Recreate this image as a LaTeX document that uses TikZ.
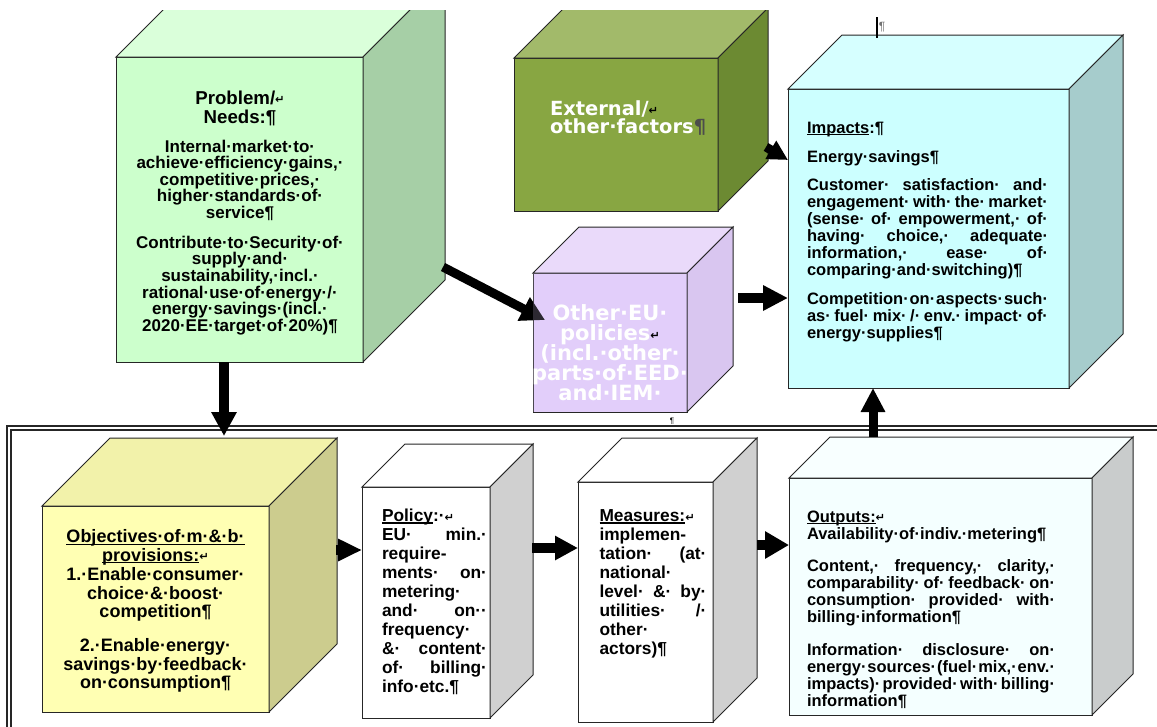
\documentclass[tikz,border=0pt]{standalone}
\usepackage{fontspec}
\setmainfont{Liberation Sans}
\newfontfamily\dvsans{DejaVu Sans}
\usetikzlibrary{arrows.meta}

\definecolor{gfront}{HTML}{CCFFCC}\definecolor{gtop}{HTML}{DAFFDA}\definecolor{gside}{HTML}{A6CFA6}
\definecolor{efront}{HTML}{88A642}\definecolor{etop}{HTML}{A2BA6A}\definecolor{eside}{HTML}{6C8A32}
\definecolor{pfront}{HTML}{E2CEFA}\definecolor{ptop}{HTML}{EADAFA}\definecolor{pside}{HTML}{D9C6F0}
\definecolor{ifront}{HTML}{CCFFFF}\definecolor{itop}{HTML}{D6FFFF}\definecolor{iside}{HTML}{A6CCCC}
\definecolor{ofront}{HTML}{FFFFB3}\definecolor{otop}{HTML}{F2F2AA}\definecolor{oside}{HTML}{CCCC8E}
\definecolor{wfront}{HTML}{FFFFFF}\definecolor{wtop}{HTML}{FFFFFF}\definecolor{wside}{HTML}{D0D0D0}
\definecolor{ufront}{HTML}{F4FFFF}\definecolor{utop}{HTML}{F8FFFF}\definecolor{uside}{HTML}{C9CCCC}

\newcommand\lnL[1]{\hbox to\hsize{#1\hfil}}
\newcommand\lnC[1]{\hbox to\hsize{\hfil#1\hfil}}
\newcommand\lnJ[1]{\hbox to\hsize{#1}}
\newcommand\retmark{{\dvsans\fontsize{8.5pt}{8.5pt}\selectfont\raisebox{0.1ex}{↵}}}
\newcommand\ulin[1]{\setbox0\hbox{#1}\rlap{\rule[-0.11em]{\wd0}{0.065em}}\box0}

\tikzset{
  face/.style={draw=black!85, line width=0.75pt, outer sep=0pt, inner sep=0pt},
  edge/.style={draw=black!85, line width=0.75pt, line join=miter},
  frm/.style={draw=black!85, line width=0.8pt},
  fat/.style n args={3}{draw=black, line width=#1, -{Triangle[length=#2,width=#3]}},
  txt/.style={inner sep=0pt, outer sep=0pt},
}

% name, x1, y1, x2, y2, depth, front, top, side
\newcommand\mycube[9]{%
  \node[face, fill=#7, minimum width={(#4-#2)*0.75pt}, minimum height={(#5-#3)*0.75pt}, anchor=north west] (#1) at (#2,#3) {};
  \draw[edge, fill=#8] (#1.north west) -- ++(#6,-#6) -- ++(#4-#2,0) -- (#1.north east) -- cycle;
  \draw[edge, fill=#9] (#1.north east) -- ++(#6,-#6) -- ++(0,#5-#3) -- (#1.south east) -- cycle;
}

\begin{document}
\begin{tikzpicture}[x=0.75pt,y=-0.75pt]
\useasboundingbox (0,0) rectangle (1157,726);
\fill[white] (0,0) rectangle (1157,726);
\clip (0,10) rectangle (1157,726);

% frame of the lower part
\draw[frm] (7,426) rectangle (1180,750);
\draw[frm] (11,430) rectangle (1180,750);

% cubes
\mycube{prob}{116}{57}{363}{362}{82}{gfront}{gtop}{gside}
\mycube{ext}{514}{58}{718}{211}{50}{efront}{etop}{eside}
\mycube{pur}{533}{273}{687}{412}{46}{pfront}{ptop}{pside}
\mycube{imp}{788}{89}{1069}{388}{54}{ifront}{itop}{iside}
\mycube{obj}{42}{506}{269}{712}{68}{ofront}{otop}{oside}
\mycube{pol}{362}{487}{490}{718}{43}{wfront}{wtop}{wside}
\mycube{mea}{578}{482}{713}{722}{44}{wfront}{wtop}{wside}
\mycube{out}{789}{478}{1092}{715}{41}{ufront}{utop}{uside}

% connector end points
\coordinate (dA) at (224,436);
\coordinate (oA) at (336,550);
\coordinate (pA) at (532,548);
\coordinate (mA) at (757,545);
\coordinate (uA) at (873,437);
\coordinate (rA) at (738,298);
\coordinate (eA) at (766,147);
\coordinate (eB) at (788,160);
\coordinate (gA) at (443,267);
\coordinate (gB) at (545,320);

% arrows
\draw[fat={7.5pt}{18pt}{18pt}] (prob.south -| dA) -- (dA);
\draw[fat={7.5pt}{18pt}{15.75pt}] (oA) -- (pol.west |- oA);
\draw[fat={7.5pt}{17.25pt}{17.25pt}] (pA) -- (mea.west |- pA);
\draw[fat={7.5pt}{18pt}{19.5pt}] (mA) -- (out.west |- mA);
\draw[fat={6.75pt}{18pt}{17.25pt}] (uA) -- (imp.south -| uA);
\draw[fat={7.5pt}{18.75pt}{18pt}] (rA) -- (imp.west |- rA);
\draw[fat={6.75pt}{15pt}{15pt}] (eA) -- (eB);
\draw[fat={6.75pt}{18pt}{18.75pt}] (gA) -- (gB);
\fill[pfront, opacity=0.2] (pur.north west) rectangle (pur.south east);

% texts
\node[txt, anchor=base, font=\bfseries\fontsize{12.75pt}{12.45pt}\selectfont] (probT) at (240,104) {\vtop{\hsize=180pt\lineskiplimit=-50pt
  {\fontsize{14pt}{14.25pt}\selectfont\lnC{Problem/\retmark}\lnC{Needs:¶}}
  \vskip 9.3pt
  \lnC{Internal·market·to·}
  \lnC{achieve·efficiency·gains,·}
  \lnC{competitive·prices,·}
  \lnC{higher·standards·of·}
  \lnC{service¶}
  \vskip 10pt
  \lnC{Contribute·to·Security·of·}
  \lnC{supply·and·}
  \lnC{sustainability,·incl.·}
  \lnC{rational·use·of·energy·/·}
  \lnC{energy·savings·(incl.·}
  \lnC{2020·EE·target·of·20\%)¶}}};

\node[txt, anchor=base west, text=white, font=\dvsans\bfseries\fontsize{14.6pt}{13.7pt}\selectfont] (extT) at (550,115) {\vtop{\hsize=160pt\lineskiplimit=-50pt
  \lnL{External/{\color{black}\retmark}}
  \lnL{other·factors{\color{black!70}¶}}}};

\node[txt, anchor=base, text=white, font=\dvsans\bfseries\fontsize{15.75pt}{15pt}\selectfont] (purT) at (610,320) {\vtop{\hsize=127.5pt\lineskiplimit=-50pt
  \lnC{Other·EU·}
  \lnC{policies{\color{black}\retmark}}
  \lnC{(incl.·other·}
  \lnC{parts·of·EED·}
  \lnC{and·IEM·}}};

\node[txt, anchor=base west, font=\bfseries\fontsize{12.375pt}{12.75pt}\selectfont] (impT) at (807,133) {\vtop{\hsize=180.75pt\lineskiplimit=-50pt
  \lnL{\ulin{Impacts}:¶}
  \vskip 9pt
  \lnL{Energy·savings¶}
  \vskip 8.25pt
  \lnJ{Customer·\hfill satisfaction·\hfill and·}
  \lnJ{engagement·\hfill with·\hfill the·\hfill market·}
  \lnJ{(sense·\hfill of·\hfill empowerment,·\hfill of·}
  \lnJ{having·\hfill choice,·\hfill adequate·}
  \lnJ{information,·\hfill ease·\hfill of·}
  \lnL{comparing·and·switching)¶}
  \vskip 9pt
  \lnJ{Competition·\hfill on·\hfill aspects·\hfill such·}
  \lnJ{as·\hfill fuel·\hfill mix·\hfill /·\hfill env.·\hfill impact·\hfill of·}
  \lnL{energy·supplies¶}}};

\node[txt, anchor=base, font=\bfseries\fontsize{13.5pt}{14.1pt}\selectfont] (objT) at (155.5,542.7) {\vtop{\hsize=165pt\lineskiplimit=-50pt
  \lnC{\ulin{Objectives·of·m·\&·b·}}
  \lnC{\ulin{provisions:}\retmark}
  \lnC{1.·Enable·consumer·}
  \lnC{choice·\&·boost·}
  \lnC{competition¶}
  \vskip 10.95pt
  \lnC{2.·Enable·energy·}
  \lnC{savings·by·feedback·}
  \lnC{on·consumption¶}}};

\node[txt, anchor=base west, font=\bfseries\fontsize{13pt}{14.25pt}\selectfont] (polT) at (382,521.7) {\vtop{\hsize=78.75pt\lineskiplimit=-50pt
  \lnL{\ulin{Policy}:·\retmark}
  \lnJ{EU·\hfill min.·}
  \lnL{require-}
  \lnJ{ments·\hfill on·}
  \lnL{metering·}
  \lnJ{and·\hfill on··}
  \lnL{frequency·}
  \lnJ{\&·\hfill content·}
  \lnJ{of·\hfill billing·}
  \lnL{info·etc.¶}}};

\node[txt, anchor=base west, font=\bfseries\fontsize{13pt}{14.25pt}\selectfont] (meaT) at (599.5,521.7) {\vtop{\hsize=80.25pt\lineskiplimit=-50pt
  \lnL{\ulin{Measures:}\retmark}
  \lnL{implemen-}
  \lnJ{tation·\hfill (at·}
  \lnL{national·}
  \lnJ{level·\hfill \&·\hfill by·}
  \lnJ{utilities·\hfill /·}
  \lnL{other·}
  \lnL{actors)¶}}};

\node[txt, anchor=base west, font=\bfseries\fontsize{12.375pt}{12.75pt}\selectfont] (outT) at (807,522) {\vtop{\hsize=186pt\lineskiplimit=-50pt
  \lnL{\ulin{Outputs:}\retmark}
  \lnL{Availability·of·indiv.·metering¶}
  \vskip 11.25pt
  \lnJ{Content,·\hfill frequency,·\hfill clarity,·}
  \lnJ{comparability·\hfill of·\hfill feedback·\hfill on·}
  \lnJ{consumption·\hfill provided·\hfill with·}
  \lnL{billing·information¶}
  \vskip 12pt
  \lnJ{Information·\hfill disclosure·\hfill on·}
  \lnJ{energy·\hfill sources·\hfill (fuel·\hfill mix,·\hfill env.·}
  \lnJ{impacts)·\hfill provided·\hfill with·\hfill billing·}
  \lnL{information¶}}};

% stray formatting marks
\draw[black, line width=1pt] (877,17) -- (877,38);
\node[txt, text=black!55, font=\fontsize{9pt}{9pt}\selectfont] (pm1) at (882,27) {¶};
\node[txt, text=black, font=\fontsize{6pt}{6pt}\selectfont] (pm2) at (672,421) {¶};
\end{tikzpicture}
\end{document}
